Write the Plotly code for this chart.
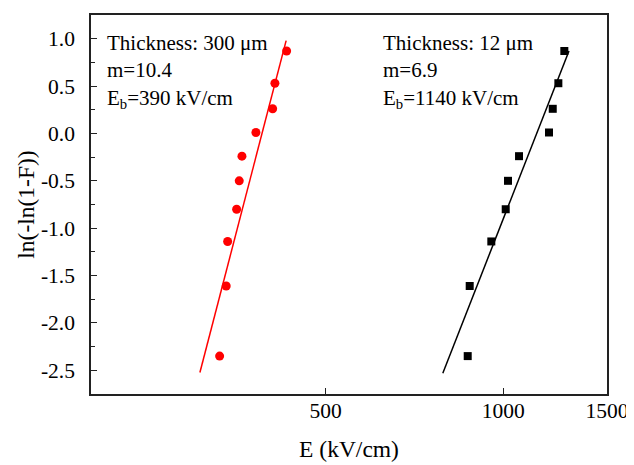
import numpy as np
import plotly.graph_objects as go

# Weibull plot data
weibull_y = [-2.35, -1.61, -1.14, -0.80, -0.50, -0.24, 0.01, 0.26, 0.53, 0.87]
e_300um = [330.5, 339.1, 341.0, 353.2, 356.8, 360.6, 380.8, 406.5, 410.1, 429.3]
e_12um = [870.7, 877.5, 954.8, 1010.0, 1019.0, 1063.9, 1196.0, 1213.6, 1240.5, 1269.8]

# fit parameters (from the annotations) and extent of fitted lines
m_300, eb_300 = 10.4, 390.0
m_12, eb_12 = 6.9, 1140.0
fit_range_300 = [306.0, 428.5]
fit_range_12 = [790.0, 1293.0]

x_tickvals = [500, 1000, 1500]
x_ticktext = ["500", "1000", "1500"]
y_tickvals = [-2.5, -2.0, -1.5, -1.0, -0.5, 0.0, 0.5, 1.0]
y_ticktext = ["-2.5", "-2.0", "-1.5", "-1.0", "-0.5", "0.0", "0.5", "1.0"]

FONT = "Liberation Serif"


def fit_line(rng, m, eb):
    xs = np.array(rng)
    return xs, m * np.log(xs / eb)


fig = go.Figure()

fx, fy = fit_line(fit_range_300, m_300, eb_300)
fig.add_trace(go.Scatter(x=fx, y=fy, mode="lines",
                         line=dict(color="#ff0000", width=1.5), showlegend=False))
fig.add_trace(go.Scatter(x=e_300um, y=weibull_y, mode="markers",
                         marker=dict(color="#ff0000", size=9, symbol="circle"),
                         showlegend=False))

fx, fy = fit_line(fit_range_12, m_12, eb_12)
fig.add_trace(go.Scatter(x=fx, y=fy, mode="lines",
                         line=dict(color="#000000", width=1.5), showlegend=False))
fig.add_trace(go.Scatter(x=e_12um, y=weibull_y, mode="markers",
                         marker=dict(color="#000000", size=8, symbol="square"),
                         showlegend=False))

fig.add_annotation(xref="paper", yref="paper", x=0.0266, y=0.963,
                   xanchor="left", yanchor="top", align="left", showarrow=False,
                   text="Thickness: 300 μm<br>m=10.4<br>E<sub>b</sub>=390 kV/cm",
                   font=dict(family=FONT, size=21, color="black"))
fig.add_annotation(xref="paper", yref="paper", x=0.562, y=0.963,
                   xanchor="left", yanchor="top", align="left", showarrow=False,
                   text="Thickness: 12 μm<br>m=6.9<br>E<sub>b</sub>=1140 kV/cm",
                   font=dict(family=FONT, size=21, color="black"))

axis_common = dict(showline=True, linecolor="#222222", linewidth=1.5, mirror=True,
                   showgrid=False, zeroline=False, ticks="inside", tickcolor="#222222",
                   tickwidth=1.2, ticklen=6,
                   tickfont=dict(family=FONT, size=21.5, color="black"))

fig.update_xaxes(type="log", range=[np.log10(200), np.log10(1500)],
                 tickvals=x_tickvals, ticktext=x_ticktext, ticklabelstandoff=-4,
                 title=dict(text="E (kV/cm)", font=dict(family=FONT, size=23.5, color="black"),
                            standoff=19),
                 **axis_common)
fig.update_yaxes(range=[-2.75, 1.25], tickvals=y_tickvals, ticktext=y_ticktext,
                 ticklabelstandoff=10,
                 minor=dict(dtick=0.25, tick0=0, ticks="inside", ticklen=4,
                            tickcolor="#222222", tickwidth=1.2),
                 title=dict(text="ln(-ln(1-F))", font=dict(family=FONT, size=23.5, color="black"),
                            standoff=0),
                 **axis_common)

fig.update_layout(width=634, height=465, margin=dict(l=83, r=35, t=5, b=79),
                  paper_bgcolor="white", plot_bgcolor="white",
                  font=dict(family=FONT, color="black"))

fig.write_html("out.html")
